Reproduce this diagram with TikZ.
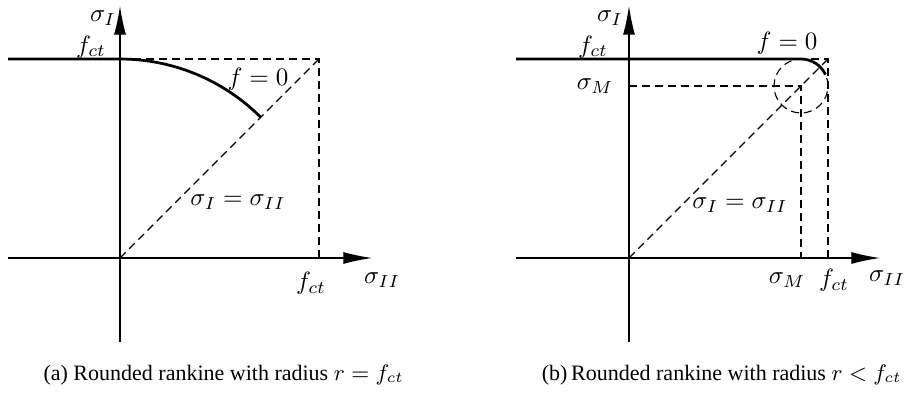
\documentclass[tikz,border=0pt]{standalone}
\usepackage[no-math]{fontspec}
\newfontfamily\capfont{Liberation Serif}
\usetikzlibrary{arrows.meta}

\begin{document}
\begin{tikzpicture}[x=0.4pt,y=0.4pt,line width=0.45,
		axis/.style={-{Latex[length=11.5pt,width=4.8pt]}},
		guide/.style={dash pattern=on 3.2pt off 2pt},
		yield/.style={line width=1.1},
		capt/.style={inner sep=0,font=\capfont\fontsize{8.8}{11}\selectfont}]
	\useasboundingbox (0,0) rectangle (905,394);
	% (a) r = f_ct
	\begin{scope}[shift={(120,136)}]
		\coordinate (o) at (0,0);
		\coordinate (c) at (199,199);
		\coordinate (t) at (0,199);
		\coordinate (r) at (199,0);
		\draw[axis] (-112,0)--(252,0);
		\draw[axis] (0,-84)--(0,252);
		\draw[guide] (t)--(c)--(r);
		\draw[guide] (o)--(c);
		\draw[yield] (-112,199)--(t) arc (90:45:199);
		\node (a-sI) at (-17,240) {$\sigma_I$};
		\node (a-ft) at (-29,211) {$f_{ct}$};
		\node (a-f0) at (138,179) {$f=0$};
		\node (a-eq) at (118,56) {$\sigma_I=\sigma_{II}$};
		\node (a-fb) at (191,-25) {$f_{ct}$};
		\node (a-sII) at (262,-22) {$\sigma_{II}$};
	\end{scope}
	% (b) r < f_ct
	\begin{scope}[shift={(629,136)}]
		\coordinate (o) at (0,0);
		\coordinate (c) at (199,199);
		\coordinate (t) at (0,199);
		\coordinate (r) at (199,0);
		\coordinate (m) at (172,172);
		\coordinate (mx) at (0,172);
		\coordinate (my) at (172,0);
		\draw[axis] (-113,0)--(251,0);
		\draw[axis] (0,-84)--(0,252);
		\draw[guide] (t)--(c)--(r);
		\draw[guide] (o)--(c);
		\draw[guide] (mx)--(m)--(my);
		\draw[guide] (m) circle (27);
		\draw[yield] (-113,199)--(172,199) arc (90:25:27);
		\node (b-sI) at (-19,240) {$\sigma_I$};
		\node (b-ft) at (-36,211) {$f_{ct}$};
		\node (b-sM) at (-34,172) {$\sigma_M$};
		\node (b-f0) at (158,215) {$f=0$};
		\node (b-eq) at (111,53) {$\sigma_I=\sigma_{II}$};
		\node (b-sMb) at (158,-22) {$\sigma_M$};
		\node (b-fb) at (205,-22) {$f_{ct}$};
		\node (b-sII) at (258,-20) {$\sigma_{II}$};
	\end{scope}
	\node[capt,anchor=west] (capa) at (43,19) {(a) Rounded rankine with radius $r=f_{ct}$};
	\node[capt,anchor=east] (capb) at (902,19) {(b)\,Rounded rankine with radius $r<f_{ct}$};
\end{tikzpicture}
\end{document}
